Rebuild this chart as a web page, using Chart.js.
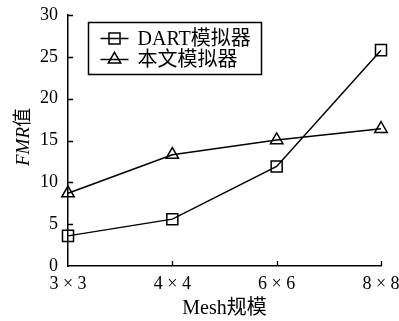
<!DOCTYPE html>
<html>
<head>
<meta charset="utf-8">
<script src="https://cdn.jsdelivr.net/npm/chart.js@4.4.1/dist/chart.umd.min.js"></script>
<style>
  html, body { margin: 0; padding: 0; background: #fff; }
  #wrap { width: 399px; height: 321px; }
</style>
</head>
<body>
<div id="wrap"><canvas id="fmrChart"></canvas></div>
<script>
// data
const meshSizes = ['3 × 3', '4 × 4', '6 × 6', '8 × 8'];
const dartValues = [3.6, 5.6, 11.9, 25.8];
const oursValues = [8.7, 13.3, 15.05, 16.4];
const yTicks = [0, 5, 10, 15, 20, 25, 30];

const serif = '"Liberation Serif", "Times New Roman", "Noto Sans CJK SC", serif';

// inward tick marks, y axis title with italic FMR, legend box inside plot
const extras = {
    id: 'extras',
    afterDraw(chart) {
        const ctx = chart.ctx;
        const x = chart.scales.x, y = chart.scales.y;
        const area = chart.chartArea;
        ctx.save();
        ctx.strokeStyle = '#000';
        ctx.lineWidth = 1.3;
        ctx.beginPath();
        yTicks.slice(1).forEach(v => {
            const py = Math.round(y.getPixelForValue(v)) + 0.5;
            ctx.moveTo(area.left, py);
            ctx.lineTo(area.left + 5, py);
        });
        meshSizes.slice(1).forEach((m, i) => {
            const px = Math.round(x.getPixelForValue(i + 1)) + 0.5;
            ctx.moveTo(px, area.bottom);
            ctx.lineTo(px, area.bottom - 5);
        });
        ctx.stroke();

        // y axis title
        ctx.save();
        ctx.translate(24, 137);
        ctx.rotate(-Math.PI / 2);
        ctx.fillStyle = '#000';
        ctx.textBaseline = 'middle';
        ctx.font = 'italic 19px ' + serif;
        const w1 = ctx.measureText('FMR').width;
        ctx.font = '19px ' + serif;
        const w2 = ctx.measureText('值').width;
        let sx = -(w1 + w2) / 2;
        ctx.font = 'italic 19px ' + serif;
        ctx.fillText('FMR', sx, 0);
        ctx.font = '19px ' + serif;
        ctx.fillText('值', sx + w1, 0);
        ctx.restore();

        // legend
        const bx = 88.5, by = 22.5, bw = 173, bh = 52;
        ctx.lineWidth = 1.5;
        ctx.strokeRect(bx, by, bw, bh);
        chart.data.datasets.forEach((ds, i) => {
            const ly = by + 16 + i * 21;
            ctx.lineWidth = 1.5;
            ctx.beginPath();
            ctx.moveTo(bx + 12, ly);
            ctx.lineTo(bx + 40, ly);
            ctx.stroke();
            ctx.fillStyle = 'rgba(0,0,0,0)';
            Chart.helpers.drawPoint(ctx, {
                pointStyle: ds.pointStyle,
                radius: ds.pointRadius,
                borderWidth: 1.5
            }, bx + 26, ly);
            ctx.fillStyle = '#000';
            ctx.font = '20px ' + serif;
            ctx.textBaseline = 'middle';
            ctx.fillText(ds.label, bx + 49, ly + 1);
        });
        ctx.restore();
    }
};

new Chart(document.getElementById('fmrChart').getContext('2d'), {
    type: 'line',
    data: {
        labels: meshSizes,
        datasets: [{
            label: 'DART模拟器',
            data: dartValues,
            borderColor: '#000',
            borderWidth: 1.5,
            pointStyle: 'rect',
            pointRadius: 7.8,
            pointBorderWidth: 1.5,
            pointBackgroundColor: 'rgba(0,0,0,0)',
            pointBorderColor: '#000',
            tension: 0,
            clip: false
        }, {
            label: '本文模拟器',
            data: oursValues,
            borderColor: '#000',
            borderWidth: 1.5,
            pointStyle: 'triangle',
            pointRadius: 7.2,
            pointBorderWidth: 1.5,
            pointBackgroundColor: 'rgba(0,0,0,0)',
            pointBorderColor: '#000',
            tension: 0,
            clip: false
        }]
    },
    options: {
        responsive: true,
        maintainAspectRatio: false,
        animation: false,
        layout: { padding: { top: 15, right: 1, left: 0, bottom: 0 } },
        plugins: {
            legend: { display: false },
            tooltip: { enabled: false }
        },
        scales: {
            x: {
                type: 'category',
                offset: false,
                grid: { display: false, drawTicks: false },
                border: { display: true, color: '#000', width: 1.5 },
                ticks: {
                    color: '#000',
                    font: { family: serif, size: 18 },
                    padding: 7,
                    maxRotation: 0,
                    autoSkip: false
                },
                title: {
                    display: true,
                    text: 'Mesh规模',
                    color: '#000',
                    font: { family: serif, size: 20 },
                    padding: { top: 0, bottom: 0 }
                },
                afterFit: s => {
                    s.height = 55;
                    s.paddingLeft = 0;
                    s.paddingRight = 18;
                }
            },
            y: {
                min: 0,
                max: 30,
                grid: { display: false, drawTicks: false },
                border: { display: true, color: '#000', width: 1.5 },
                ticks: {
                    stepSize: 5,
                    color: '#000',
                    font: { family: serif, size: 18 },
                    padding: 10
                },
                afterFit: s => {
                    s.width = 68;
                    s.paddingTop = 0;
                    s.paddingBottom = 0;
                }
            }
        }
    },
    plugins: [extras]
});
</script>
</body>
</html>
